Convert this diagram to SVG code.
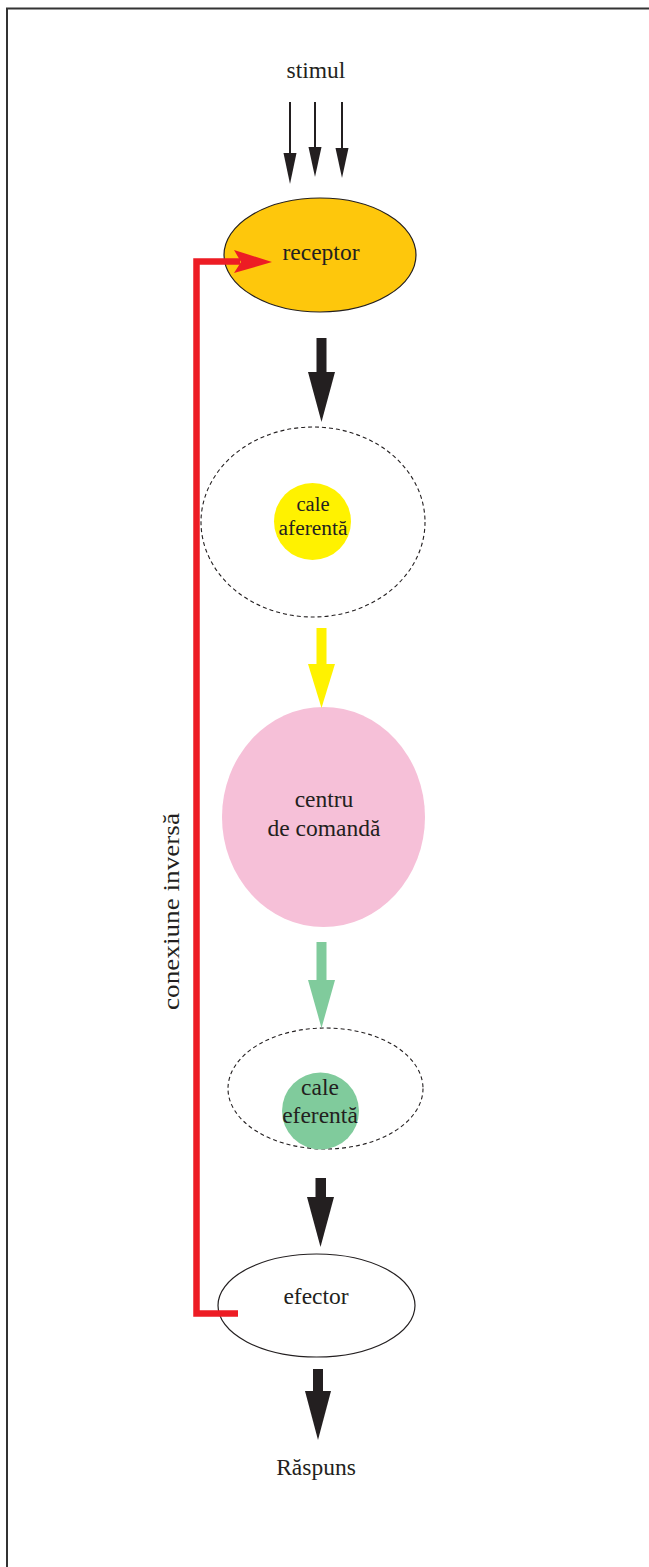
<svg xmlns="http://www.w3.org/2000/svg" width="649" height="1567" viewBox="0 0 649 1567">
<style>
text{font-family:"Liberation Serif","Times New Roman",serif;font-size:23.5px;fill:#231F20;text-anchor:middle}
.sm{font-size:20.5px}
.dash{fill:none;stroke:#231F20;stroke-width:1.1;stroke-dasharray:4 3}
</style>
<rect width="649" height="1567" fill="#fff"/>
<path d="M7 1567 V8.5 H649" fill="none" stroke="#333" stroke-width="2"/>
<g id="stimul"><text x="316" y="78">stimul</text></g>
<g id="receptor"><ellipse cx="320" cy="255" rx="96" ry="57" fill="#FEC70C" stroke="#231F20" stroke-width="1.2"/><text x="321" y="260">receptor</text></g>
<g id="cale-aferenta"><ellipse class="dash" cx="313" cy="522" rx="112" ry="95"/><circle cx="312.5" cy="521.5" r="38.5" fill="#FFF200"/><text class="sm" x="313" y="511">cale</text><text class="sm" x="313" y="534.5" textLength="69" lengthAdjust="spacingAndGlyphs">aferentă</text></g>
<g id="centru"><ellipse cx="323.5" cy="817" rx="101.5" ry="110" fill="#F6C0D8"/><text x="324" y="807">centru</text><text x="324" y="836">de comandă</text></g>
<g id="cale-eferenta"><ellipse class="dash" cx="325.5" cy="1088.5" rx="97.5" ry="60.5"/><circle cx="320.5" cy="1111" r="38.5" fill="#80CB9C"/><text x="320" y="1095">cale</text><text x="320" y="1123">eferentă</text></g>
<g id="efector"><ellipse cx="316.5" cy="1305.5" rx="98.5" ry="51.5" fill="#fff" stroke="#231F20" stroke-width="1.2"/><text x="316" y="1304">efector</text></g>
<g id="raspuns"><text x="316" y="1475">Răspuns</text></g>
<g id="label-conexiune"><text transform="translate(179 911.5) rotate(-90)" textLength="197" lengthAdjust="spacingAndGlyphs">conexiune inversă</text></g>
<g id="connectors">
<g fill="#231F20" stroke="none">
<rect x="289" y="102" width="2" height="52"/><path d="M283.5 153 L296.5 153 L290 184 Z"/>
<rect x="314" y="102" width="2" height="46"/><path d="M308.5 147 L321.5 147 L315 177 Z"/>
<rect x="341" y="102" width="2" height="47"/><path d="M335.5 148 L348.5 148 L342 178 Z"/>
<rect x="316.5" y="338" width="10" height="36"/><path d="M308 372 L335 372 L321.5 422 Z"/>
<rect x="315.5" y="1178" width="10.5" height="21"/><path d="M307 1197 L334 1197 L320.5 1247 Z"/>
<rect x="313" y="1369" width="10" height="24"/><path d="M305 1391 L331 1391 L318 1440 Z"/>
</g>
<rect x="316.5" y="628" width="10" height="38" fill="#FFF200"/><path d="M308 664 L335 664 L321.5 708 Z" fill="#FFF200"/>
<rect x="316.5" y="942" width="10" height="40" fill="#80CB9C"/><path d="M308 980 L335 980 L321.5 1028 Z" fill="#80CB9C"/>
<path d="M238 1313.5 H196.5 V261.5 H240" fill="none" stroke="#ED1C24" stroke-width="6.5"/>
<path d="M234 250 L272 262 L234 273 L241 262 Z" fill="#ED1C24"/>
</g>
</svg>
